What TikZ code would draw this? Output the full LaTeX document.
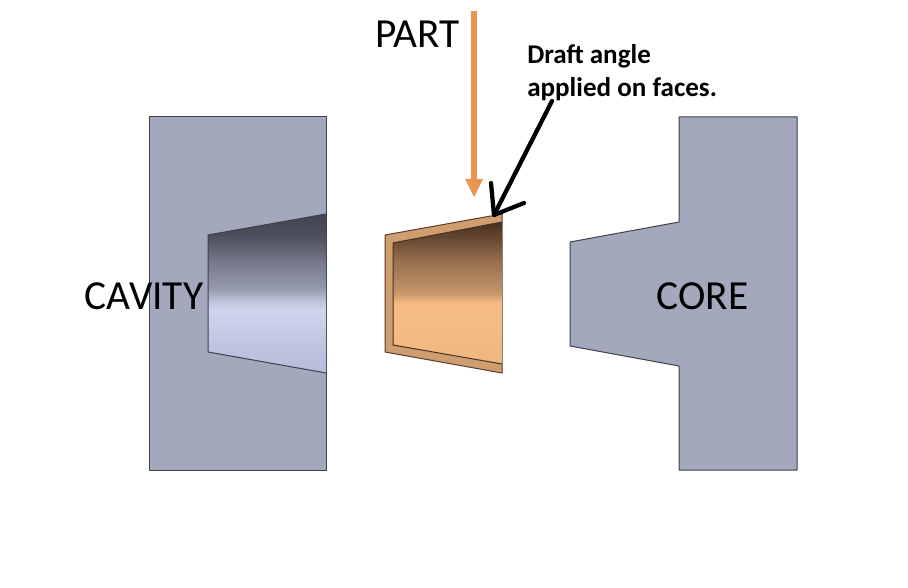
\documentclass[tikz,border=0pt]{standalone}
\usepackage{fontspec}
\setmainfont{Carlito}
\usetikzlibrary{arrows.meta}
\definecolor{steel}{RGB}{163,168,189}
\definecolor{edge}{RGB}{62,64,76}
\definecolor{copper}{RGB}{206,157,112}
\definecolor{copperedge}{RGB}{90,62,40}
\definecolor{orangearrow}{RGB}{232,150,80}
\pgfdeclareverticalshading{cavityshade}{100bp}{
 color(0bp)=(rgb,255:red,182;green,188;blue,218);
 color(25bp)=(rgb,255:red,182;green,188;blue,218);
 color(35.4bp)=(rgb,255:red,193;green,198;blue,226);
 color(44.5bp)=(rgb,255:red,208;green,213;blue,238);
 color(47.5bp)=(rgb,255:red,192;green,197;blue,220);
 color(51.5bp)=(rgb,255:red,150;green,154;blue,174);
 color(59bp)=(rgb,255:red,122;green,125;blue,143);
 color(68.4bp)=(rgb,255:red,76;green,78;blue,92);
 color(75bp)=(rgb,255:red,66;green,68;blue,80);
 color(100bp)=(rgb,255:red,66;green,68;blue,80)}
\pgfdeclareverticalshading{partshade}{100bp}{
 color(0bp)=(rgb,255:red,240;green,182;blue,128);
 color(25bp)=(rgb,255:red,240;green,182;blue,128);
 color(42bp)=(rgb,255:red,246;green,188;blue,134);
 color(46.5bp)=(rgb,255:red,246;green,186;blue,132);
 color(50bp)=(rgb,255:red,196;green,150;blue,108);
 color(61.6bp)=(rgb,255:red,150;green,110;blue,76);
 color(69bp)=(rgb,255:red,104;green,74;blue,50);
 color(75bp)=(rgb,255:red,72;green,48;blue,30);
 color(100bp)=(rgb,255:red,72;green,48;blue,30)}
\tikzset{
 block/.style={fill=steel,draw=edge,line width=0.75pt,line join=round},
 bigtext/.style={font=\fontsize{31pt}{34pt}\selectfont,inner sep=0pt,text=black},
 notetext/.style={font=\bfseries\fontsize{20.3pt}{24.75pt}\selectfont,inner sep=0pt,align=left,text=black},
 pointer/.style={draw=black,line width=3.2pt,line cap=round,line join=round},
}
\begin{document}
\begin{tikzpicture}[x=0.75pt,y=-0.75pt]
\useasboundingbox (0,0) rectangle (908,588);
% cavity
\draw[block] (149,117) rectangle (326,470);
\shade[shading=cavityshade] (208,235) -- (326,214) -- (326,373) -- (208,352) -- cycle;
\draw[edge,line width=0.75pt] (326,214) -- (208,235) -- (208,352) -- (326,373);
% core
\draw[block] (679,117) -- (797,117) -- (797,470) -- (679,470) -- (679,366) -- (570,346) -- (570,242) -- (679,222) -- cycle;
% part
\draw[fill=copper,draw=copperedge,line width=0.75pt] (385,235) -- (502,214) -- (502,373) -- (385,352) -- cycle;
\shade[shading=partshade] (393,243) -- (502,222) -- (502,364) -- (393,345) -- cycle;
\draw[copperedge!80!black,line width=0.75pt] (502,222) -- (393,243) -- (393,345) -- (502,364);
% labels
\node[bigtext,anchor=base] (part) at (417.5,48) {PART};
\node[bigtext,anchor=base] (cavity) at (144,310) {CAVITY};
\node[bigtext,anchor=base] (core) at (702.5,310) {CORE};
\node[notetext,anchor=base west] (note) at (527,96.5) {Draft angle\\applied on faces.};
% arrows
\coordinate (ostart) at (474,11);
\coordinate (oneck) at (474,181);
\coordinate (otip) at (474,197);
\coordinate (tip) at (494,215);
\coordinate (tail) at (552,101);
\coordinate (barbA) at (491,183);
\coordinate (barbB) at (524,203);
\draw[orangearrow,line width=4.5pt] (ostart) -- (oneck);
\fill[orangearrow] (465,179) -- (483,179) -- (otip) -- cycle;
\draw[pointer] (tail) -- (tip);
\draw[pointer] (barbA) -- (tip) -- (barbB);
\end{tikzpicture}
\end{document}
